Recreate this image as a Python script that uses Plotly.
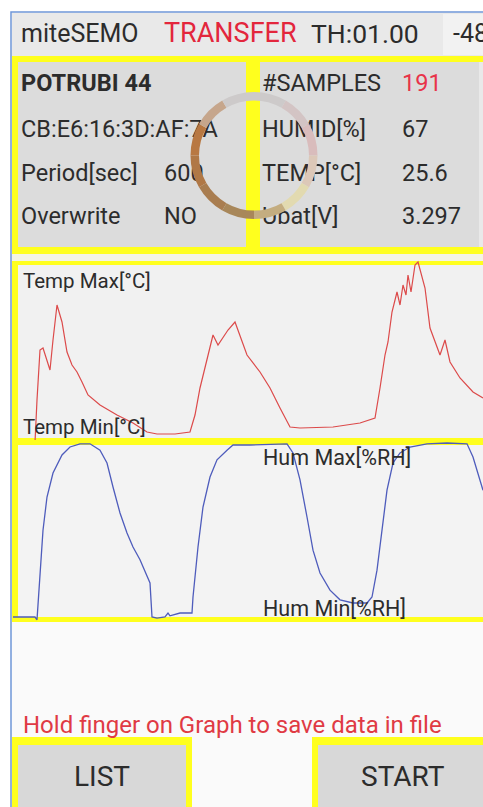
import plotly.graph_objects as go

W, H = 483, 807

# ---------------- data ----------------
# temperature trace (sample index, deg C)
temp_samples = [0.4, 9.2, 10.0, 11.2, 12.4, 13.6, 15.2, 16.4, 18.0, 20.0, 22.0, 24.0, 26.0, 28.0,
                30.4, 35.2, 42.0, 48.4, 54.0, 58.0, 65.2, 71.2, 73.2, 75.2, 78.0, 80.4, 82.4,
                84.4, 86.4, 89.2, 91.2, 94.0, 99.2, 103.2, 107.2, 111.2, 115.2, 128.4, 139.2,
                145.2, 147.2, 149.2, 150.4, 152.0, 154.0, 155.2, 156.4, 157.6, 158.4, 159.6,
                161.2, 162.4, 165.2, 167.2, 171.2, 173.2, 175.2, 179.2, 184.4, 188.4]
temp_values = [19.6, 19.6, 23.8, 28.8, 29.0, 28.0, 26.8, 29.8, 33.3, 31.6, 28.6, 27.3, 26.6, 25.6,
               24.3, 23.3, 22.3, 21.5, 20.6, 20.4, 20.4, 20.6, 22.3, 25.0, 28.0, 30.3, 29.3,
               30.1, 30.8, 31.6, 30.3, 28.3, 26.6, 25.0, 23.0, 21.1, 21.0, 21.1, 21.5,
               22.0, 25.0, 28.3, 29.6, 32.6, 34.6, 33.3, 35.3, 34.3, 36.3, 34.6,
               37.3, 37.6, 35.0, 31.0, 28.3, 29.8, 27.6, 26.0, 24.6, 24.0]

# humidity trace (sample index, %RH)
hum_samples = [0.4, 9.2, 10.0, 11.2, 12.4, 14.0, 16.4, 20.0, 23.2, 27.2, 31.2, 35.2, 38.0, 40.4,
               43.2, 46.0, 48.4, 51.2, 54.0, 55.2, 56.0, 58.0, 61.2, 62.4, 63.2, 67.2, 72.0,
               72.4, 74.4, 76.4, 79.2, 82.0, 86.0, 88.4, 95.2, 110.0, 112.4, 115.2, 118.0,
               120.4, 123.2, 127.2, 131.2, 136.4, 142.0, 144.0, 146.0, 148.0, 150.0, 152.4,
               155.2, 159.2, 166.0, 174.0, 182.0, 184.4, 187.2, 188.4]
hum_values = [45.5, 45.5, 44.8, 54.8, 67.2, 75.5, 81.5, 86.0, 88.0, 88.8, 88.8, 87.2, 84.0, 78.0,
              71.5, 66.5, 63.0, 59.8, 55.5, 54.0, 45.5, 45.2, 45.5, 46.5, 45.8, 46.5, 46.5,
              50.5, 63.0, 73.0, 80.5, 84.8, 87.2, 88.5, 88.5, 88.8, 86.5, 79.8, 70.5,
              62.2, 56.5, 52.2, 49.8, 49.0, 49.0, 50.5, 57.2, 67.2, 77.2, 84.0,
              86.5, 88.0, 88.8, 89.0, 88.8, 85.5, 79.8, 77.2]

# info panel texts
info_left_labels = ["<b>POTRUBI 44</b>", "CB:E6:16:3D:AF:7A", "Period[sec]", "Overwrite"]
info_left_values = ["", "", "600", "NO"]
info_right_labels = ["#SAMPLES", "HUMID[%]", "TEMP[°C]", "Ubat[V]"]
info_right_values = ["191", "67", "25.6", "3.297"]

# spinner ring segment colours (decoration)
ring_colors = ["#cdcaca", "#d3c4c4", "#d9bcbc", "#dcc8b8", "#e2dab0", "#c4ad80",
               "#a8875a", "#a97d50", "#b07846", "#b87842", "#c6a68c", "#cdcaca"]

# ---------------- helpers (layout positions in screen pixels) ----------------
def px(x):
    return x / W

def py(y):
    return 1 - y / H

def rect(x0, y0, x1, y1, fill, line=None):
    d = dict(type="rect", xref="paper", yref="paper",
             x0=px(x0), x1=px(x1), y0=py(y1), y1=py(y0),
             fillcolor=fill, layer="below")
    if line:
        d["line"] = dict(color=line, width=1.5)
    else:
        d["line"] = dict(width=0)
    return d

YEL = "#ffff1e"
FONT = "Roboto"
TXT = "#2c2c2c"

shapes = [
    rect(11, 12, 495, 820, "#fafafa", line="#6f96d8"),
    rect(12, 13, 495, 57, "#e9e9e9"),
    rect(443, 14, 495, 55, "#f2f2f2"),
    rect(12, 56, 495, 254, YEL),
    rect(18, 62, 246, 247, "#dcdcdc"),
    rect(260, 62, 479, 247, "#dcdcdc"),
    rect(479, 62, 495, 247, "#e9e9e9"),
    rect(12, 254, 495, 261, "#f4f4e4"),
    rect(12, 261, 495, 445, YEL),
    rect(18, 265, 495, 438, "#f1f1f1"),
    rect(12, 438, 495, 622, YEL),
    rect(18, 445, 495, 617, "#f3f3f3"),
    rect(12, 737, 192, 820, YEL),
    rect(18, 745, 186, 820, "#d8d8d8"),
    rect(312, 737, 495, 820, YEL),
    rect(318, 745, 495, 820, "#d8d8d8"),
]

def ann(text, x, y, size, color=TXT, xanchor="left"):
    return dict(text=text, x=px(x), y=py(y), xref="paper", yref="paper",
                showarrow=False, xanchor=xanchor, yanchor="middle",
                font=dict(family=FONT, size=size, color=color))

annotations = [
    ann("miteSEMO", 19, 33, 25),
    ann("TRANSFER", 162, 33, 27, color="#e3263c"),
    ann("TH:01.00", 309, 33, 26.5),
    ann("-48", 451, 33, 25),
    ann("Temp Max[°C]", 21, 281, 20.5),
    ann("Temp Min[°C]", 21, 427, 20.5),
    ann("Hum Max[%RH]", 261, 457, 21.5),
    ann("Hum Min[%RH]", 261, 608, 21.5),
    ann("Hold finger on Graph to save data in file", 21, 725, 24, color="#e03a44"),
    ann("LIST", 102, 776, 28, xanchor="center"),
    ann("START", 403, 776, 28, xanchor="center"),
]

fig = go.Figure()

# temperature line
fig.add_trace(go.Scatter(x=temp_samples, y=temp_values, mode="lines",
                         line=dict(color="#dc4a4a", width=1.2),
                         xaxis="x", yaxis="y", hoverinfo="skip", showlegend=False))
# humidity line
fig.add_trace(go.Scatter(x=hum_samples, y=hum_values, mode="lines",
                         line=dict(color="#4e5cbc", width=1.3),
                         xaxis="x2", yaxis="y2", hoverinfo="skip", showlegend=False))

# info panel texts (text trace on a full-screen overlay axis)
row_y = [85, 131, 175, 218]
texts, tx, ty, tc = [], [], [], []
for i in range(4):
    texts += [info_left_labels[i], info_left_values[i], info_right_labels[i], info_right_values[i]]
    tx += [21, 164, 262, 402]
    ty += [row_y[i]] * 4
    tc += [TXT, TXT, TXT, "#e8334a" if i == 0 else TXT]
fig.add_trace(go.Scatter(x=tx, y=ty, text=texts, mode="text", textposition="middle right",
                         textfont=dict(family=FONT, size=23.5, color=tc),
                         xaxis="x3", yaxis="y3", hoverinfo="skip", showlegend=False,
                         cliponaxis=False))

# loading spinner ring
cx, cy, r = 254, 155.5, 63.5
fig.add_trace(go.Pie(values=[1] * len(ring_colors), marker=dict(colors=ring_colors, line=dict(width=0)),
                     hole=1 - 2 * 8.5 / (2 * r), sort=False, direction="clockwise", rotation=0,
                     textinfo="none", hoverinfo="skip", showlegend=False,
                     domain=dict(x=[px(cx - r), px(cx + r)], y=[py(cy + r), py(cy - r)])))

axis_off = dict(visible=False, showgrid=False, zeroline=False, fixedrange=True)
fig.update_layout(
    width=W, height=H, margin=dict(l=0, r=0, t=0, b=0, pad=0),
    paper_bgcolor="#ffffff", plot_bgcolor="rgba(0,0,0,0)",
    xaxis=dict(domain=[0, 1], range=[-4.8, 188.4], anchor="y", **axis_off),
    yaxis=dict(domain=[py(440), py(260)], range=[19.8, 37.8], anchor="x", **axis_off),
    xaxis2=dict(domain=[0, 1], range=[-4.8, 188.4], anchor="y2", **axis_off),
    yaxis2=dict(domain=[py(621), py(441)], range=[44.5, 89.5], anchor="x2", **axis_off),
    xaxis3=dict(domain=[0, 1], range=[0, W], anchor="y3", **axis_off),
    yaxis3=dict(domain=[0, 1], range=[H, 0], anchor="x3", **axis_off),
    shapes=shapes, annotations=annotations,
)

fig.write_html("out.html", config=dict(displayModeBar=False, staticPlot=True),
               post_script="document.body.style.margin='0';document.body.style.overflow='hidden';")
